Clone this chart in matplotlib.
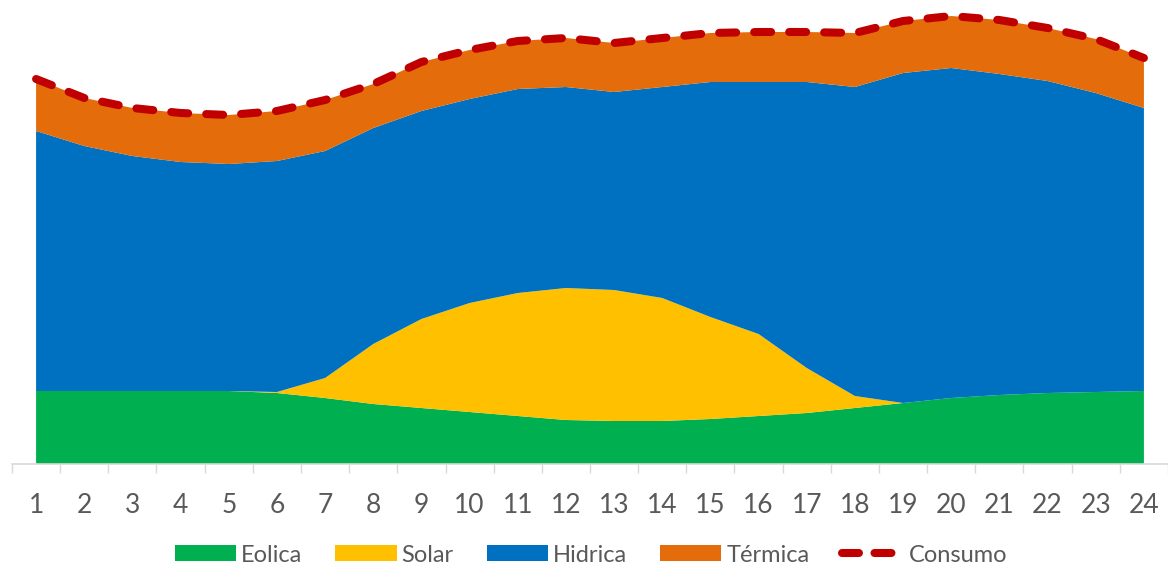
import matplotlib
matplotlib.use("Agg")
import matplotlib.pyplot as plt
from matplotlib.lines import Line2D
from matplotlib.patches import Patch
import numpy as np

# Hourly generation mix (arbitrary power units)
horas = list(range(1, 25))
eolica = [73, 73, 73, 73, 73, 71, 66, 60, 56, 52, 48, 44,
          43, 43, 45, 48, 51, 56, 61, 66, 69, 71, 72, 73]
solar = [0, 0, 0, 0, 0, 1, 20, 60, 89, 109, 123, 132,
         131, 123, 102, 82, 45, 12, 0, 0, 0, 0, 0, 0]
hidrica = [260, 245, 235, 229, 227, 231, 227, 216, 208, 204, 204, 201,
           198, 211, 235, 252, 286, 309, 330, 330, 321, 312, 299, 283]
termica = [52, 48, 48, 49, 49, 50, 51, 44, 49, 49, 48, 49,
           49, 49, 49, 50, 50, 54, 52, 52, 54, 53, 54, 50]
consumo = [385, 366, 356, 351, 349, 353, 364, 380, 402, 414, 423, 426,
           421, 426, 431, 432, 432, 431, 443, 448, 444, 436, 425, 406]

series_names = ["Eolica", "Solar", "Hidrica", "Térmica"]
colors = ["#00B050", "#FFC000", "#0070C0", "#E46C0A"]
line_color = "#C00000"
text_color = "#595959"
axis_color = "#D9D9D9"

plt.rcParams["font.family"] = ["Lato", "DejaVu Sans"]

W, H = 1168, 572
fig = plt.figure(figsize=(W / 100, H / 100), dpi=100)
ax = fig.add_axes([12 / W, (H - 464) / H, 1156 / W, 464 / H])

ax.stackplot(horas, eolica, solar, hidrica, termica, colors=colors,
             labels=series_names, linewidth=0)

dash_lw = 5.8
cons_line, = ax.plot(horas, consumo, color=line_color, linewidth=dash_lw,
                     solid_capstyle="round", dash_capstyle="round")
cons_line.set_dashes((12.2 / dash_lw, 13.0 / dash_lw))

ax.set_xlim(0.5, 24.5)
ax.set_ylim(0, 464)

for side in ["left", "right", "top"]:
    ax.spines[side].set_visible(False)
ax.spines["bottom"].set_color(axis_color)
ax.spines["bottom"].set_linewidth(1.2)
ax.set_yticks([])

ax.set_xticks(horas)
ax.set_xticklabels([str(h) for h in horas])
ax.set_xticks(np.arange(0.5, 25, 1), minor=True)
ax.tick_params(axis="x", which="major", length=0, pad=21, labelsize=19,
               labelcolor=text_color)
ax.tick_params(axis="x", which="minor", length=6.5, width=1.0,
               color=axis_color)

handles = [Patch(facecolor=c, edgecolor="none") for c in colors]
leg_line = Line2D([0], [0], color=line_color, linewidth=dash_lw,
                  dash_capstyle="round")
leg_line.set_dashes((12.2 / dash_lw, 11.2 / dash_lw))
handles.append(leg_line)
fig.legend(handles, series_names + ["Consumo"], loc="center",
           bbox_to_anchor=(591 / W, 1 - 555 / H), ncol=5, frameon=False,
           fontsize=17, labelcolor=text_color, handlelength=2.6,
           handleheight=0.65, handletextpad=0.2, columnspacing=1.4,
           borderaxespad=0)

fig.savefig("out.png", dpi=100)
